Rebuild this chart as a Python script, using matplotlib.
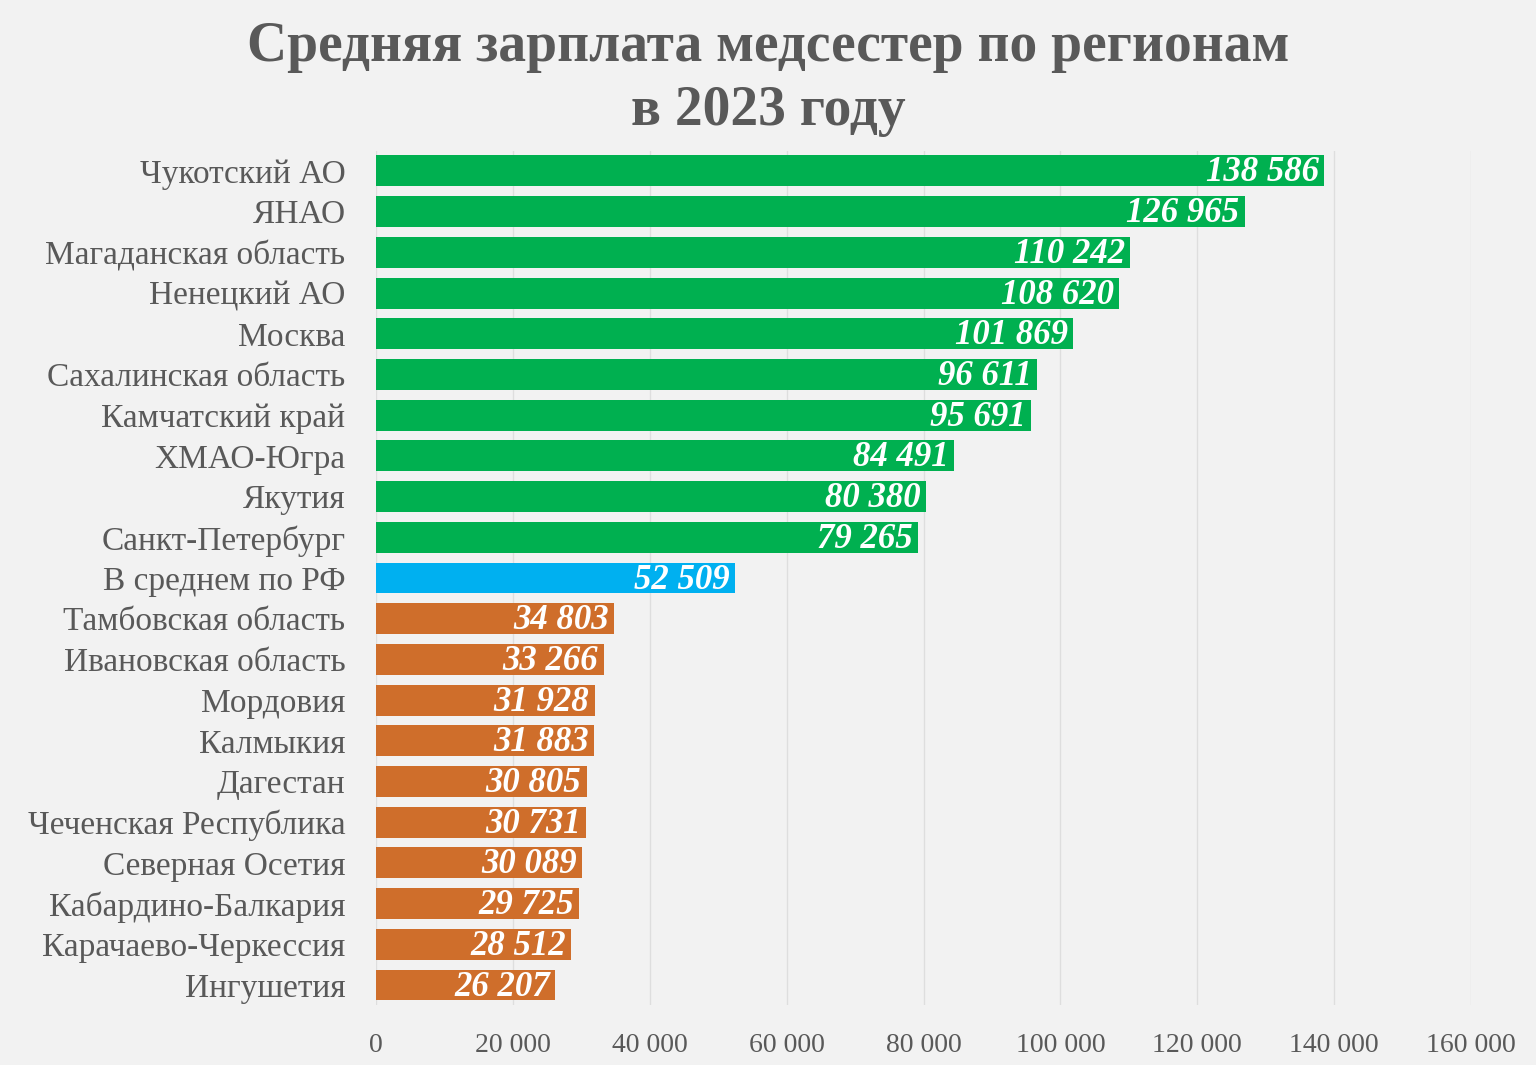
import matplotlib
matplotlib.use('Agg')
import matplotlib.pyplot as plt

regions = ['Чукотский АО', 'ЯНАО', 'Магаданская область', 'Ненецкий АО', 'Москва',
           'Сахалинская область', 'Камчатский край', 'ХМАО-Югра', 'Якутия',
           'Санкт-Петербург', 'В среднем по РФ', 'Тамбовская область',
           'Ивановская область', 'Мордовия', 'Калмыкия', 'Дагестан',
           'Чеченская Республика', 'Северная Осетия', 'Кабардино-Балкария',
           'Карачаево-Черкессия', 'Ингушетия']
salaries = [138586, 126965, 110242, 108620, 101869, 96611, 95691, 84491, 80380,
            79265, 52509, 34803, 33266, 31928, 31883, 30805, 30731, 30089,
            29725, 28512, 26207]
groups = ['high'] * 10 + ['avg'] + ['low'] * 10
xticks = [0, 20000, 40000, 60000, 80000, 100000, 120000, 140000, 160000]

colors = {'high': '#00b050', 'avg': '#00b0f0', 'low': '#cf6e2b'}
bg = '#f2f2f2'
grey = '#595959'
serif = ['Liberation Serif', 'DejaVu Serif']

fig = plt.figure(figsize=(15.36, 10.65), dpi=100, facecolor=bg)
ax = fig.add_axes([0.2448, 0.056, 0.7129, 0.8026])
ax.set_facecolor(bg)

ypos = list(range(len(regions)))
ax.barh(ypos, salaries, height=0.76, color=[colors[g] for g in groups], zorder=2)
ax.set_ylim(len(regions) - 0.5, -0.5)
ax.set_xlim(0, 160000)

for y, v in zip(ypos, salaries):
    label = f'{v:,}'.replace(',', ' ')
    ax.text(v - 800, y + 0.05, label, ha='right', va='center', color='white',
            fontsize=25, fontstyle='italic', fontweight='bold', family=serif, zorder=3)

ax.set_xticks(xticks)
ax.set_xticklabels([f'{t:,}'.replace(',', ' ') for t in xticks], fontsize=20,
                   color=grey, family=serif)
ax.set_yticks(ypos)
ax.set_yticklabels(regions, fontsize=24, color=grey, family=serif)
ax.tick_params(axis='both', length=0)
ax.tick_params(axis='y', pad=22)
ax.tick_params(axis='x', pad=20)
ax.grid(axis='x', color='#dedede', linewidth=1, zorder=0)
for s in ax.spines.values():
    s.set_visible(False)

fig.text(0.5, 0.98, 'Средняя зарплата медсестер по регионам\nв 2023 году',
         ha='center', va='top', fontsize=40, fontweight='bold', color=grey,
         family=serif, linespacing=1.3)

fig.savefig('out.png', dpi=100, facecolor=bg)
